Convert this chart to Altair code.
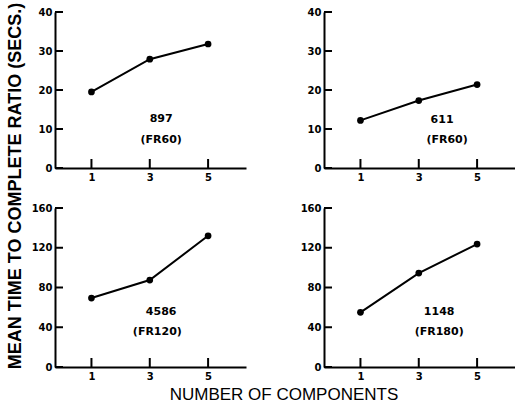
import altair as alt
import pandas as pd

components = [1, 3, 5]
s897 = [19.5, 27.9, 31.8]
s611 = [12.2, 17.3, 21.4]
s4586 = [69.4, 87.5, 132.0]
s1148 = [55.0, 94.5, 123.7]

yticks_top = [0, 10, 20, 30, 40]
yticks_bottom = [0, 40, 80, 120, 160]

subject_labels = ["897", "611", "4586", "1148"]
schedule_labels = ["(FR60)", "(FR60)", "(FR120)", "(FR180)"]

y_title = "MEAN TIME TO COMPLETE RATIO (SECS.)"
x_title = "NUMBER OF COMPONENTS"

TICK_FONT = "DejaVu Sans"
TITLE_FONT = "Liberation Sans"

W = 191


def panel(vals, ymax, yticks, lab1, lab2, lx1, lx2, ly1, ly2, height, extra=None):
    xs = alt.Scale(domain=[-0.25, 6.3], nice=False, zero=False)
    ys = alt.Scale(domain=[0, ymax], nice=False, zero=True)
    xax = alt.Axis(values=components, ticks=False, grid=False, title=None,
                   domainColor="black", domainWidth=2, labelFont=TICK_FONT,
                   labelFontSize=10, labelFontWeight="bold", labelColor="black",
                   labelPadding=4, format="d")
    yax = alt.Axis(values=yticks, ticks=False, grid=False, title=None,
                   domainColor="black", domainWidth=2, labelFont=TICK_FONT,
                   labelFontSize=10, labelFontWeight="bold", labelColor="black",
                   labelPadding=3, format="d")
    X = alt.X("n:Q", scale=xs, axis=xax)
    Y = alt.Y("t:Q", scale=ys, axis=yax)

    df = pd.DataFrame({"n": components, "t": vals})
    base = alt.Chart(df)
    line = base.mark_line(color="black", strokeWidth=2).encode(x=X, y=Y)
    pts = base.mark_circle(size=45, color="black", opacity=1).encode(x=X, y=Y)

    ytk = alt.Chart(pd.DataFrame({"t": yticks})).mark_rule(
        color="black", strokeWidth=2).encode(y=Y, x=alt.value(0), x2=alt.value(8))
    xtk = alt.Chart(pd.DataFrame({"n": components})).mark_rule(
        color="black", strokeWidth=2).encode(x=X, y=alt.value(height), y2=alt.value(height - 9))

    txt = alt.Chart(pd.DataFrame({"n": [lx1, lx2], "t": [ly1, ly2], "s": [lab1, lab2]})).mark_text(
        font=TICK_FONT, fontSize=11, fontWeight="bold", color="black").encode(x=X, y=Y, text="s:N")

    layers = [line, pts, ytk, xtk, txt]
    if extra is not None:
        layers.append(extra)
    return alt.layer(*layers).properties(width=W, height=height)


ytitle_mark = alt.Chart(pd.DataFrame({"s": [y_title]})).mark_text(
    angle=270, font=TITLE_FONT, fontSize=18, fontWeight="bold", color="black",
    baseline="middle", align="center").encode(
    text="s:N", x=alt.value(-39), y=alt.value(174))

xtitle_mark = alt.Chart(pd.DataFrame({"s": [x_title]})).mark_text(
    font=TITLE_FONT, fontSize=17, color="black", baseline="middle", align="center").encode(
    text="s:N", x=alt.value(229), y=alt.value(187))

tl = panel(s897, 40, yticks_top, subject_labels[0], schedule_labels[0], 3.39, 3.39, 12.6, 7.2, 156, ytitle_mark)
tr = panel(s611, 40, yticks_top, subject_labels[1], schedule_labels[1], 3.8, 3.97, 12.3, 7.2, 156)
bl = panel(s4586, 160, yticks_bottom, subject_labels[2], schedule_labels[2], 3.39, 3.26, 55.3, 35.2, 159, xtitle_mark)
br = panel(s1148, 160, yticks_bottom, subject_labels[3], schedule_labels[3], 3.7, 3.7, 55.3, 35.0, 159)

chart = alt.concat(
    tl, tr, bl, br, columns=2, spacing={"row": 40, "column": 78}, bounds="flush",
).properties(
    padding={"left": 6, "top": 2, "right": 0, "bottom": 0},
    background="white",
).configure_view(stroke=None)

chart.save("out.html", embed_options={"renderer": "svg", "actions": False})
